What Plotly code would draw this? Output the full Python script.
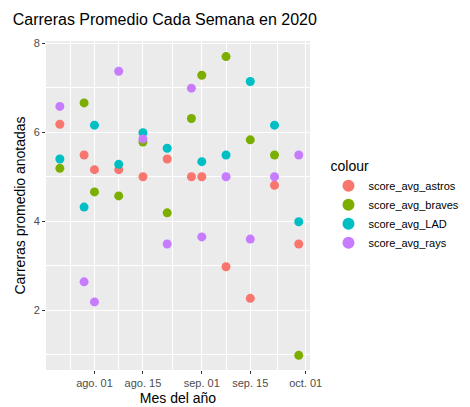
import plotly.graph_objects as go

semanas = ["2020-07-22", "2020-07-29", "2020-08-01", "2020-08-08", "2020-08-15", "2020-08-22",
           "2020-08-29", "2020-09-01", "2020-09-08", "2020-09-15", "2020-09-22", "2020-09-29"]
score_avg_astros = [6.18, 5.49, 5.16, 5.16, 5.0, 5.40, 5.0, 5.0, 2.98, 2.27, 4.81, 3.49]
score_avg_braves = [5.19, 6.66, 4.66, 4.57, 5.78, 4.19, 6.31, 7.28, 7.70, 5.83, 5.49, 0.99]
score_avg_LAD = [5.40, 4.32, 6.16, 5.28, 5.99, 5.64, None, 5.34, 5.49, 7.14, 6.16, 3.99]
score_avg_rays = [6.58, 2.64, 2.19, 7.37, 5.85, 3.49, 6.99, 3.65, 5.0, 3.60, 5.0, 5.49]

series = [("score_avg_astros", score_avg_astros, "#F8766D"),
          ("score_avg_braves", score_avg_braves, "#7CAE00"),
          ("score_avg_LAD", score_avg_LAD, "#00BFC4"),
          ("score_avg_rays", score_avg_rays, "#C77CFF")]

tick_fechas = ["2020-08-01", "2020-08-15", "2020-09-01", "2020-09-15", "2020-10-01"]
tick_textos = ["ago. 01", "ago. 15", "sep. 01", "sep. 15", "oct. 01"]

fig = go.Figure()
for nombre, valores, color in series:
    fig.add_trace(go.Scatter(x=semanas, y=valores, mode="markers", name=nombre,
                             marker=dict(color=color, size=9)))

fig.update_layout(
    width=470, height=407,
    margin=dict(l=38, r=168, t=33, b=45),
    paper_bgcolor="white", plot_bgcolor="#EBEBEB",
    font=dict(family="Liberation Sans, Arial, sans-serif", size=12, color="black"),
    title=dict(text="Carreras Promedio Cada Semana en 2020", x=0.01, xanchor="left",
               y=0.985, yanchor="top", font=dict(size=16)),
    legend=dict(title=dict(text="colour", font=dict(size=14)), x=1.07, xanchor="left",
                y=0.5, yanchor="middle", font=dict(size=11), itemsizing="constant"),
)
fig.update_xaxes(
    title=dict(text="Mes del año", font=dict(size=14), standoff=4),
    range=["2020-07-18", "2020-10-02 06:00"],
    tickvals=tick_fechas, ticktext=tick_textos,
    tickfont=dict(color="#4D4D4D", size=11),
    ticks="outside", ticklen=3, tickcolor="#333333",
    gridcolor="white", gridwidth=1.2, zeroline=False, showline=False,
    minor=dict(tickvals=["2020-07-25", "2020-08-08", "2020-08-23 12:00", "2020-09-08", "2020-09-23"],
               showgrid=True, gridcolor="white", gridwidth=0.5, ticks=""),
)
fig.update_yaxes(
    title=dict(text="Carreras promedio anotadas", font=dict(size=14), standoff=4),
    range=[0.66, 8.05], tickvals=[2, 4, 6, 8],
    tickfont=dict(color="#4D4D4D", size=11),
    ticks="outside", ticklen=3, tickcolor="#333333",
    gridcolor="white", gridwidth=1.2, zeroline=False, showline=False,
    minor=dict(tickvals=[1, 3, 5, 7], showgrid=True, gridcolor="white", gridwidth=0.5, ticks=""),
)

fig.write_html("out.html")
